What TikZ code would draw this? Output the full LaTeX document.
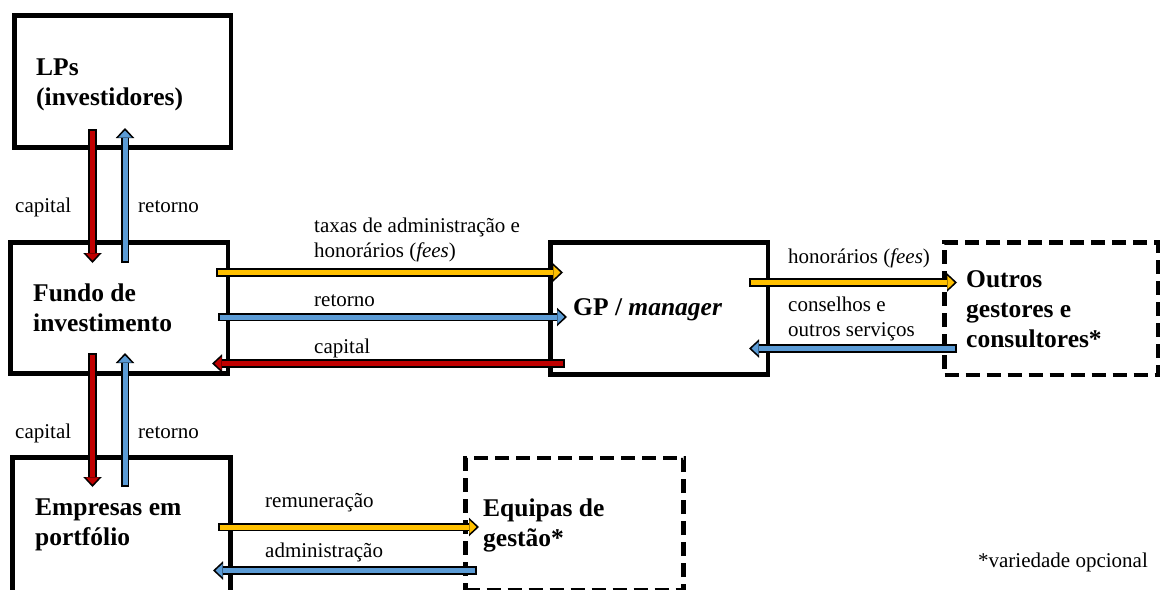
\documentclass[tikz,border=0pt]{standalone}
\usepackage{fontspec}
\setmainfont{Liberation Serif}
\usepackage{tikz}
\usetikzlibrary{arrows.meta}
\definecolor{capital}{RGB}{192,0,0}
\definecolor{retorno}{RGB}{91,155,213}
\definecolor{fees}{RGB}{255,192,0}
\tikzstyle{caixa}=[draw, line width=4.5pt, inner sep=0pt, outer sep=0pt]
\tikzstyle{opcional}=[caixa, dash pattern=on 14pt off 7pt]
\tikzstyle{titulo}=[anchor=west, align=left, inner sep=0pt, font=\fontsize{25.5}{30}\selectfont\bfseries]
\tikzstyle{rotulo}=[anchor=west, align=left, inner sep=0pt, font=\fontsize{21}{24.5}\selectfont]
\tikzstyle{fluxo}=[line width=5pt, -{Triangle[width=13.5pt,length=7pt,line width=0pt]}, shorten >=2.6pt, shorten <=1.6pt,
    preaction={draw=black, line width=8.2pt, -{Triangle[width=18.5pt,length=10pt,line width=0pt]}, shorten >=0pt, shorten <=0pt}]

\begin{document}
\begin{tikzpicture}[x=1pt, y=-1pt]
    \path[use as bounding box] (0,0) rectangle (1161,589);
    % caixas
    \node[caixa, minimum width=216.5pt, minimum height=132pt] (lps) at (122.75,81.5) {};
    \node[caixa, minimum width=217.5pt, minimum height=131pt] (fundo) at (119.25,308) {};
    \node[caixa, minimum width=217.5pt, minimum height=132pt] (gp) at (659.25,308.5) {};
    \node[opcional, minimum width=213.5pt, minimum height=132.5pt] (outros) at (1051.25,308.75) {};
    \node[caixa, minimum width=218pt, minimum height=134.5pt] (empresas) at (121.5,524.75) {};
    \node[opcional, minimum width=218pt, minimum height=132pt] (equipas) at (574.5,524) {};
    % textos das caixas
    \node[titulo] (lpstxt) at (36,84.5) {LPs\\(investidores)};
    \node[titulo] (fundotxt) at (33,308) {Fundo de\\investimento};
    \node[titulo] (gptxt) at (573,310) {GP / \textit{manager}};
    \node[titulo] (outrostxt) at (966,309) {Outros\\gestores e\\consultores*};
    \node[titulo] (empresastxt) at (35,525) {Empresas em\\portfólio};
    \node[titulo] (equipastxt) at (483,525) {Equipas de\\gestão*};
    % pontas das setas
    \coordinate (lpsA) at (92.5,129);   \coordinate (fundoA) at (92.5,263);
    \coordinate (lpsB) at (125,128);    \coordinate (fundoB) at (125,263);
    \coordinate (fundoC) at (92.5,353); \coordinate (empresasC) at (92.5,487);
    \coordinate (fundoD) at (125,353);  \coordinate (empresasD) at (125,487);
    \coordinate (fundoE) at (216,272.5);  \coordinate (gpE) at (563,272.5);
    \coordinate (fundoF) at (218,317);    \coordinate (gpF) at (567,317);
    \coordinate (fundoG) at (212,363.5);  \coordinate (gpG) at (565,363.5);
    \coordinate (gpH) at (749,282.5);     \coordinate (outrosH) at (957,282.5);
    \coordinate (gpI) at (749,348.5);     \coordinate (outrosI) at (957,348.5);
    \coordinate (empresasJ) at (218,527);   \coordinate (equipasJ) at (479,527);
    \coordinate (empresasK) at (213,570.5); \coordinate (equipasK) at (477,570.5);
    % setas
    \draw[fluxo, capital] (lpsA) -- (fundoA);
    \draw[fluxo, retorno] (fundoB) -- (lpsB);
    \draw[fluxo, capital] (fundoC) -- (empresasC);
    \draw[fluxo, retorno] (empresasD) -- (fundoD);
    \draw[fluxo, fees] (fundoE) -- (gpE);
    \draw[fluxo, retorno] (fundoF) -- (gpF);
    \draw[fluxo, capital] (gpG) -- (fundoG);
    \draw[fluxo, fees] (gpH) -- (outrosH);
    \draw[fluxo, retorno] (outrosI) -- (gpI);
    \draw[fluxo, fees] (empresasJ) -- (equipasJ);
    \draw[fluxo, retorno] (equipasK) -- (empresasK);
    % rotulos
    \node[rotulo] (cap1) at (15,207) {capital};
    \node[rotulo] (ret1) at (138,207) {retorno};
    \node[rotulo] (cap2) at (15,433) {capital};
    \node[rotulo] (ret2) at (138,433) {retorno};
    \node[rotulo] (taxas) at (314,240) {taxas de administração e\\honorários (\textit{fees})};
    \node[rotulo] (ret3) at (314,301) {retorno};
    \node[rotulo] (cap3) at (314,348) {capital};
    \node[rotulo] (hon) at (788,258) {honorários (\textit{fees})};
    \node[rotulo] (cons) at (788,319) {conselhos e\\outros serviços};
    \node[rotulo] (rem) at (265,503) {remuneração};
    \node[rotulo] (adm) at (265,552) {administração};
    \node[rotulo, anchor=east] (nota) at (1148,562) {*variedade opcional};
\end{tikzpicture}
\end{document}
